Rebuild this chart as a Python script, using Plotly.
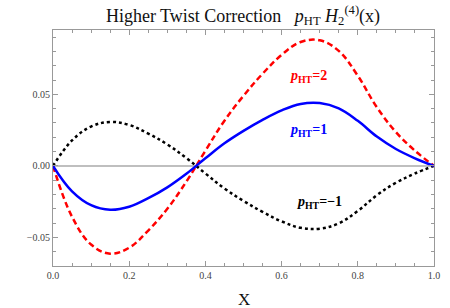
import plotly.graph_objects as go

x_vals = [0.0, 0.05, 0.10, 0.15, 0.20, 0.25, 0.30, 0.35, 0.40, 0.45, 0.50,
          0.55, 0.60, 0.65, 0.70, 0.75, 0.80, 0.85, 0.90, 0.95, 1.0]
h_p1 = [0.0, -0.0178, -0.0275, -0.0307, -0.0286, -0.0226, -0.0150, -0.0055, 0.0053, 0.0158, 0.0245,
        0.0322, 0.0388, 0.0433, 0.0439, 0.0402, 0.0315, 0.0205, 0.0118, 0.0053, 0.0]
h_p2 = [0.0, -0.0356, -0.0550, -0.0614, -0.0572, -0.0452, -0.0300, -0.0110, 0.0106, 0.0316, 0.0490,
        0.0644, 0.0776, 0.0866, 0.0878, 0.0804, 0.0630, 0.0410, 0.0236, 0.0106, 0.0]
h_m1 = [0.0, 0.0178, 0.0275, 0.0307, 0.0286, 0.0226, 0.0150, 0.0055, -0.0053, -0.0158, -0.0245,
        -0.0322, -0.0388, -0.0433, -0.0439, -0.0402, -0.0315, -0.0205, -0.0118, -0.0053, 0.0]

labels = ["2", "1", "\u22121"]
label_x = [0.67, 0.67, 0.70]
label_y = [0.0622, 0.0245, -0.0255]
label_colors = ["#ff0000", "#0000ff", "#000000"]

serif = "Liberation Serif, Times New Roman, serif"

fig = go.Figure()
fig.add_hline(y=0, line=dict(color="#aaaaaa", width=1.5), layer="below")
fig.add_trace(go.Scatter(x=x_vals, y=h_m1, mode="lines",
                         line=dict(color="#000000", width=2.5, dash="dot", shape="spline", smoothing=1.1)))
fig.add_trace(go.Scatter(x=x_vals, y=h_p2, mode="lines",
                         line=dict(color="#ff0000", width=2.5, dash="6px,3.5px", shape="spline", smoothing=1.1)))
fig.add_trace(go.Scatter(x=x_vals, y=h_p1, mode="lines",
                         line=dict(color="#0000ff", width=2.5, shape="spline", smoothing=1.1)))

for t, lx, ly, c in zip(labels, label_x, label_y, label_colors):
    fig.add_annotation(x=lx, y=ly, showarrow=False,
                       text="<b><i>p</i><sub>HT</sub>=" + t + "</b>",
                       font=dict(family=serif, size=14, color=c))

fig.add_annotation(x=0.5, y=-0.14, xref="paper", yref="paper", showarrow=False,
                   text="X", yanchor="middle",
                   font=dict(family=serif, size=17, color="#111111"))

fig.update_layout(
    width=450, height=308,
    margin=dict(l=53, r=16, t=30, b=42),
    paper_bgcolor="white", plot_bgcolor="white",
    showlegend=False,
    title=dict(text="Higher Twist Correction   <i>p</i><sub>HT</sub> <i>H</i><sub>2</sub><sup>(4)</sup>(x)",
               x=0.54, xanchor="center", y=0.95, yanchor="middle",
               font=dict(family=serif, size=18, color="#111111")),
    font=dict(family=serif),
)
fig.update_xaxes(range=[0, 1], showgrid=False, zeroline=False, automargin=False,
                 showline=True, linecolor="#999999", linewidth=1, mirror="allticks",
                 ticks="inside", ticklen=5, tickcolor="#999999", tickwidth=1,
                 dtick=0.2, tick0=0, tickformat=".1f",
                 minor=dict(ticks="inside", ticklen=3, dtick=0.05, tickcolor="#999999", showgrid=False),
                 tickfont=dict(family=serif, size=10, color="#444444"))
fig.update_yaxes(range=[-0.07, 0.095], showgrid=False, zeroline=False, automargin=False,
                 showline=True, linecolor="#999999", linewidth=1, mirror="allticks",
                 ticks="inside", ticklen=5, tickcolor="#999999", tickwidth=1,
                 tickvals=[-0.05, 0.0, 0.05], tickformat=".2f",
                 minor=dict(ticks="inside", ticklen=3, dtick=0.01, tick0=0, tickcolor="#999999", showgrid=False),
                 tickfont=dict(family=serif, size=10, color="#444444"))

fig.write_html("out.html", config={"displayModeBar": False},
               post_script="document.body.style.margin='0';")
